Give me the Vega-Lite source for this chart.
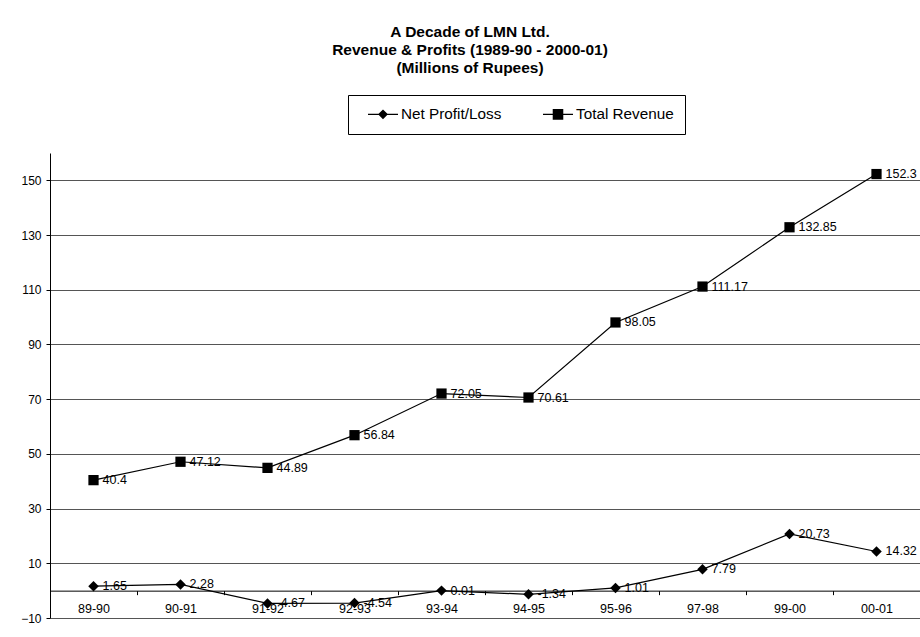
{
  "$schema": "https://vega.github.io/schema/vega-lite/v6.json",
  "width": 870,
  "height": 465,
  "autosize": {"type": "none"},
  "padding": {"left": 50, "top": 153, "right": 0, "bottom": 19},
  "background": "white",
  "config": {
    "view": {"stroke": null},
    "font": "Liberation Sans"
  },
  "title": {
    "text": ["A Decade of LMN Ltd.", "Revenue & Profits (1989-90 - 2000-01)", "(Millions of Rupees)"],
    "font": "Liberation Sans",
    "fontSize": 15.5,
    "fontWeight": "bold",
    "lineHeight": 18,
    "color": "black",
    "anchor": "middle",
    "frame": "group",
    "baseline": "bottom",
    "dx": -15,
    "offset": 3
  },
  "data": {
    "values": [
      {"year": "89-90", "series": "Net Profit/Loss", "value": 1.65},
      {"year": "90-91", "series": "Net Profit/Loss", "value": 2.28},
      {"year": "91-92", "series": "Net Profit/Loss", "value": -4.67},
      {"year": "92-93", "series": "Net Profit/Loss", "value": -4.54},
      {"year": "93-94", "series": "Net Profit/Loss", "value": 0.01},
      {"year": "94-95", "series": "Net Profit/Loss", "value": -1.34},
      {"year": "95-96", "series": "Net Profit/Loss", "value": 1.01},
      {"year": "97-98", "series": "Net Profit/Loss", "value": 7.79},
      {"year": "99-00", "series": "Net Profit/Loss", "value": 20.73},
      {"year": "00-01", "series": "Net Profit/Loss", "value": 14.32},
      {"year": "89-90", "series": "Total Revenue", "value": 40.4},
      {"year": "90-91", "series": "Total Revenue", "value": 47.12},
      {"year": "91-92", "series": "Total Revenue", "value": 44.89},
      {"year": "92-93", "series": "Total Revenue", "value": 56.84},
      {"year": "93-94", "series": "Total Revenue", "value": 72.05},
      {"year": "94-95", "series": "Total Revenue", "value": 70.61},
      {"year": "95-96", "series": "Total Revenue", "value": 98.05},
      {"year": "97-98", "series": "Total Revenue", "value": 111.17},
      {"year": "99-00", "series": "Total Revenue", "value": 132.85},
      {"year": "00-01", "series": "Total Revenue", "value": 152.3}
    ]
  },
  "encoding": {
    "x": {
      "field": "year",
      "type": "nominal",
      "sort": null,
      "scale": {"type": "band", "paddingInner": 0, "paddingOuter": 0},
      "axis": {
        "title": null,
        "orient": "bottom",
        "offset": -27.35,
        "labelAngle": 0,
        "labelFont": "Liberation Sans",
        "labelFontSize": 12.5,
        "labelColor": "black",
        "labelPadding": 8,
        "domainColor": "black",
        "tickColor": "black",
        "tickSize": 4,
        "tickBand": "extent",
        "grid": false
      }
    },
    "y": {
      "field": "value",
      "type": "quantitative",
      "scale": {"domain": [-10, 160], "nice": false, "zero": false},
      "axis": {
        "title": null,
        "values": [-10, 10, 30, 50, 70, 90, 110, 130, 150],
        "labelFont": "Liberation Sans",
        "labelFontSize": 12,
        "labelColor": "black",
        "labelPadding": 5,
        "domainColor": "black",
        "tickColor": "black",
        "tickSize": 4,
        "grid": true,
        "gridColor": "#555555",
        "gridWidth": 1
      }
    }
  },
  "layer": [
    {
      "mark": {"type": "line", "color": "black", "strokeWidth": 1.2},
      "encoding": {"detail": {"field": "series", "type": "nominal"}}
    },
    {
      "transform": [{"filter": "datum.series === 'Net Profit/Loss'"}],
      "mark": {"type": "point", "shape": "diamond", "filled": true, "color": "black", "opacity": 1, "size": 110}
    },
    {
      "transform": [{"filter": "datum.series === 'Total Revenue'"}],
      "mark": {"type": "point", "shape": "square", "filled": true, "color": "black", "opacity": 1, "size": 105}
    },
    {
      "mark": {"type": "point", "filled": true, "color": "black", "opacity": 0, "size": 10},
      "encoding": {
        "shape": {
          "field": "series",
          "type": "nominal",
          "scale": {
            "domain": ["Net Profit/Loss", "Total Revenue"],
            "range": [
              "M-1.875,-0.07H1.875V0.07H-1.875ZM0,-0.62L0.62,0L0,0.62L-0.62,0Z",
              "M-1.875,-0.07H1.875V0.07H-1.875ZM-0.66,-0.66H0.66V0.66H-0.66Z"
            ]
          },
          "legend": {
            "title": "\u00a0",
            "titleOrient": "left",
            "titlePadding": 16,
            "titleFontSize": 15,
            "orient": "none",
            "legendX": 298,
            "legendY": -58,
            "direction": "horizontal",
            "strokeColor": "black",
            "fillColor": "white",
            "padding": 11,
            "symbolSize": 256,
            "symbolOpacity": 1,
            "symbolFillColor": "black",
            "symbolStrokeColor": "black",
            "symbolStrokeWidth": 0,
            "labelFont": "Liberation Sans",
            "labelFontSize": 15.3,
            "labelColor": "black",
            "labelOffset": 10,
            "labelExpr": "datum.label + '\u00a0\u00a0'",
            "columnPadding": 41,
            "encode": {
              "symbols": {
                "fill": {"value": "black"},
                "opacity": {"value": 1}
              }
            }
          }
        }
      }
    },
    {
      "mark": {"type": "text", "align": "left", "baseline": "middle", "dx": 9, "font": "Liberation Sans", "fontSize": 12.5, "color": "black"},
      "encoding": {"text": {"field": "value", "type": "nominal"}}
    }
  ]
}
